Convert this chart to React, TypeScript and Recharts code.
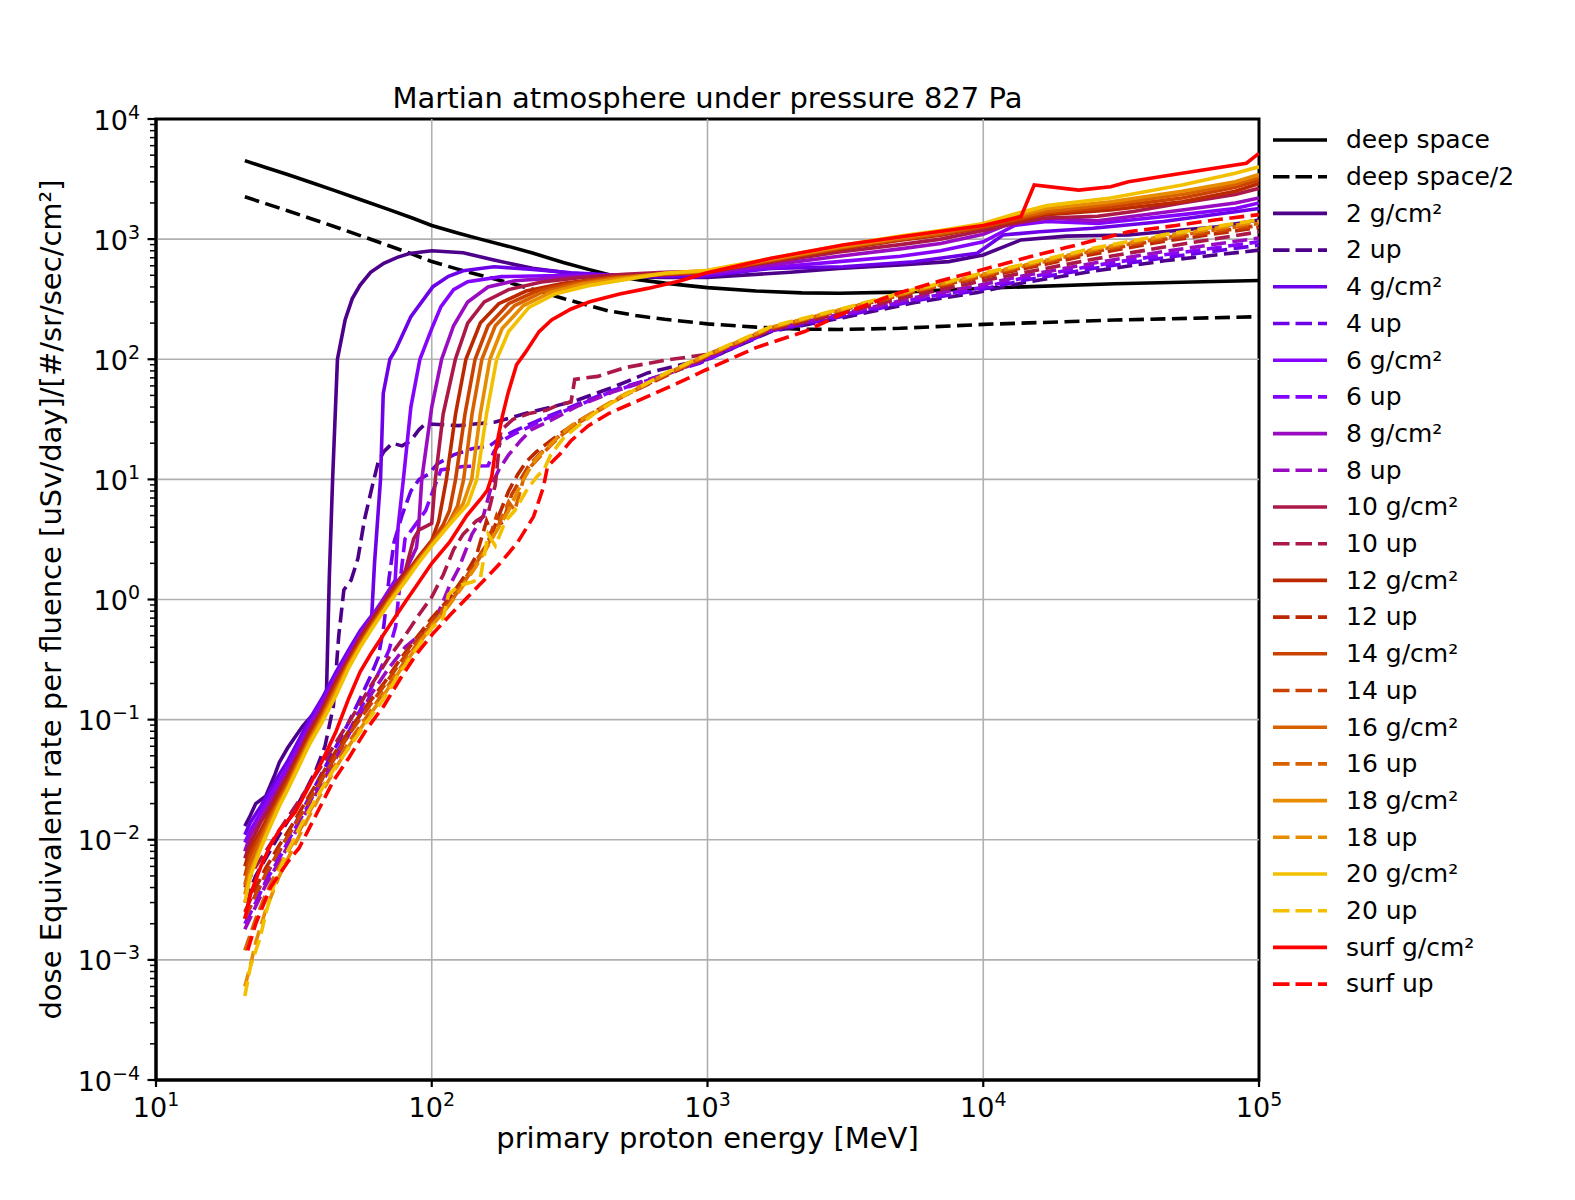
import React from "react";
import { LineChart, Line, XAxis, YAxis, ReferenceLine, ReferenceArea } from "recharts";

type Pt = [number, number];

// energies in MeV, dose values
const deepSpace: Pt[] = [[21,4500],[25,3950],[30,3450],[37,2930],[44,2560],[55,2140],[70,1760],[85,1500],[100,1300],[125,1120],[150,1000],[190,870],[232,765],[300,640],[370,560],[440,505],[500,480],[550,462],[700,430],[850,410],[1000,395],[1500,370],[2200,357],[3000,354],[5000,362],[10000,390],[30000,425],[100000,452]];
const deepSpaceHalf: Pt[] = [[21,2250],[25,1975],[30,1725],[37,1465],[44,1280],[55,1070],[70,880],[85,750],[100,650],[125,560],[150,500],[190,435],[232,382],[300,320],[370,280],[440,252],[500,240],[550,231],[700,215],[850,205],[1000,197],[1500,185],[2200,178],[3000,177],[5000,181],[10000,195],[30000,212],[100000,226]];

const g2: Pt[] = [[21,0.013],[22,0.016],[23,0.02],[25,0.023],[27,0.035],[28,0.044],[30,0.058],[32,0.072],[34,0.088],[37,0.11],[40.5,0.14],[41.5,0.16],[42.5,1.5],[43.7,10],[45.5,100],[48.5,212],[51.5,320],[55,415],[60,530],[67,630],[75,705],[83,760],[100,800],[130,770],[168,670],[232,571],[320,519],[440,490],[700,480],[1000,480],[2000,530],[3000,571],[5000,610],[7500,650],[10000,738],[13700,985],[20000,1060],[33600,1082],[45000,1153],[71000,1267],[100000,1443]];
const up2: Pt[] = [[21,0.003],[23,0.005],[25,0.007],[28,0.011],[31,0.016],[35,0.026],[38,0.038],[41,0.06],[44,0.13],[46,0.5],[48,1.2],[51,1.45],[54,2.2],[57,4.6],[61,9],[64,14],[67,17],[72,20],[78,19],[84,21],[90,26],[95,29],[110,28.5],[125,28],[170,30],[220,35.5],[272,40],[340,46],[450,58],[607,77],[800,90],[1000,100],[1700,170],[3100,222],[5600,295],[9550,360],[13700,430],[25000,540],[45400,660],[100000,810]];

const g4: Pt[] = [[21,0.011],[22,0.014],[24,0.019],[26,0.026],[28,0.035],[30,0.045],[33,0.068],[36,0.1],[40,0.15],[45,0.25],[50,0.38],[55,0.55],[60.6,0.74],[62,2],[65.2,10],[66.7,52],[70.5,100],[74,120],[84,226],[101,402],[115,490],[130,545],[168,589],[232,560],[320,525],[440,505],[700,490],[940,487],[1700,571],[3100,589],[5600,649],[9500,762],[11800,1082],[16000,1153],[25000,1230],[45000,1400],[82000,1690],[100000,1800]];
const up4: Pt[] = [[21,0.0022],[23,0.0035],[25,0.005],[28,0.008],[31,0.012],[35,0.02],[40,0.036],[45,0.06],[50,0.095],[55,0.15],[60,0.23],[64,0.33],[67,0.6],[70,1.5],[73,3],[78,5],[84,8],[90,10],[97,11],[105,13.5],[120,16],[140,18],[162,19],[172,21],[197,25],[228,29],[260,33],[345,43],[452,55],[600,67],[940,93],[1700,172],[3100,228],[5600,305],[9550,375],[13700,450],[25000,570],[45400,700],[100000,890]];

const g6: Pt[] = [[21,0.0095],[22,0.012],[24,0.017],[26,0.023],[28,0.031],[30,0.04],[33,0.062],[36,0.09],[40,0.14],[45,0.23],[50,0.36],[55,0.52],[60,0.7],[65,0.92],[70,1.2],[73.7,1.45],[75.5,4],[78.9,10],[84,40],[90.6,100],[100,180],[108,274],[120,380],[135,442],[179,487],[260,495],[400,500],[700,510],[1000,515],[2000,600],[3000,650],[5000,720],[7000,800],[10000,950],[13000,1300],[17000,1400],[26000,1350],[35000,1450],[52600,1600],[82000,1800],[100000,2000]];
const up6: Pt[] = [[21,0.002],[23,0.003],[25,0.0045],[28,0.007],[31,0.011],[35,0.018],[40,0.032],[45,0.052],[50,0.08],[55,0.12],[60,0.18],[65,0.26],[70,0.38],[74,0.6],[77,1.5],[80,3.2],[86,4],[95,5.5],[102,8.5],[108,12],[130,12.8],[160,13],[168,17],[180,21],[200,24],[230,28],[260,32],[345,42],[452,54],[600,66],[940,95],[1700,175],[3100,235],[5600,315],[9550,390],[13700,470],[25000,600],[45400,740],[100000,950]];

const g8: Pt[] = [[21,0.008],[22,0.011],[24,0.015],[26,0.021],[28,0.028],[30,0.037],[33,0.057],[36,0.085],[40,0.13],[45,0.22],[50,0.34],[55,0.5],[60,0.68],[70,1.15],[80,1.7],[88,2.7],[89.5,3.8],[92,10],[100,40],[108.6,100],[120,190],[135,300],[160,400],[200,450],[300,480],[440,500],[700,505],[1000,520],[2000,640],[3000,720],[5000,830],[7000,920],[10000,1100],[13000,1400],[17000,1500],[26000,1420],[35000,1550],[52600,1750],[82000,2000],[100000,2200]];
const up8: Pt[] = [[21,0.0018],[23,0.0028],[25,0.0042],[28,0.0066],[31,0.01],[35,0.017],[40,0.03],[45,0.048],[50,0.075],[55,0.11],[60,0.16],[70,0.27],[80,0.4],[90,0.5],[100,0.6],[105,0.75],[116,1.3],[125,1.8],[140,3.5],[154,5],[165,9],[175,12],[190,16],[210,21],[230,26],[270,31],[340,41],[450,53],[600,66],[1000,102],[1700,178],[3100,240],[5600,325],[9550,410],[13700,490],[25000,630],[45400,790],[100000,1020]];

const g10: Pt[] = [[21,0.007],[22,0.0095],[24,0.014],[26,0.019],[28,0.026],[30,0.034],[33,0.052],[36,0.08],[40,0.12],[45,0.21],[50,0.32],[55,0.48],[60,0.65],[70,1.1],[80,1.7],[86,3.2],[90,3.8],[100,4.3],[103,10],[110,35],[121.8,100],[135,200],[155,300],[190,380],[250,440],[350,480],[500,510],[700,530],[1000,540],[2000,680],[3000,780],[5000,900],[7000,1000],[10000,1180],[13000,1350],[17000,1500],[26000,1550],[35000,1700],[52600,2000],[82000,2350],[100000,2650]];
const up10: Pt[] = [[21,0.004],[23,0.006],[25,0.008],[28,0.012],[31,0.017],[35,0.026],[40,0.042],[45,0.065],[50,0.095],[55,0.135],[60,0.19],[70,0.33],[80,0.5],[90,0.75],[100,1.05],[110,1.6],[120,2.6],[130,3.5],[145,4.5],[160,5.2],[170,9],[178,25.6],[197,31.6],[228,35.6],[260,37.6],[290,42],[320,44],[330,68],[345,69],[400,72],[500,85],[700,98],[1000,110],[1700,175],[3100,245],[5600,340],[9550,440],[13700,520],[25000,680],[45400,860],[100000,1150]];

const g12: Pt[] = [[21,0.006],[22,0.0085],[24,0.012],[26,0.017],[28,0.024],[30,0.032],[33,0.05],[36,0.075],[40,0.115],[45,0.2],[50,0.31],[55,0.46],[60,0.63],[70,1.05],[80,1.6],[90,2.3],[100,3.1],[106,4.5],[113,10],[122,35],[133,100],[150,200],[175,290],[220,370],[300,430],[450,480],[700,505],[1000,530],[2000,700],[3000,820],[5000,980],[7000,1080],[10000,1250],[13000,1400],[17000,1600],[29000,1750],[52600,2050],[82000,2500],[100000,2900]];
const up12: Pt[] = [[21,0.0025],[23,0.004],[25,0.0058],[28,0.009],[31,0.013],[35,0.021],[40,0.035],[45,0.055],[50,0.08],[58,0.13],[67,0.2],[77,0.32],[88,0.48],[100,0.7],[115,1.0],[130,1.5],[145,2.3],[158,4.5],[165,3.5],[175,5],[190,8],[205,11],[220,14],[240,17],[270,21],[300,25],[345,31],[400,38],[500,50],[700,72],[1000,106],[1700,180],[3100,255],[5600,360],[9550,470],[13700,560],[25000,750],[45400,960],[100000,1250]];

const g14: Pt[] = [[21,0.005],[22,0.0075],[24,0.011],[26,0.016],[28,0.022],[30,0.03],[33,0.047],[36,0.07],[40,0.11],[45,0.19],[50,0.3],[55,0.44],[60,0.6],[70,1.0],[80,1.55],[90,2.2],[100,3.0],[110,4.2],[116,5.5],[122,10],[132,35],[143.6,100],[160,190],[190,290],[240,370],[320,430],[450,480],[700,510],[1000,535],[2000,710],[3000,840],[5000,1000],[7000,1100],[10000,1270],[13000,1450],[17000,1650],[29000,1850],[52600,2200],[82000,2700],[100000,3100]];
const up14: Pt[] = [[21,0.0022],[23,0.0035],[25,0.0052],[28,0.0082],[31,0.012],[35,0.019],[40,0.032],[45,0.05],[50,0.075],[58,0.12],[67,0.19],[77,0.3],[88,0.45],[100,0.66],[115,0.95],[130,1.4],[145,2.1],[160,3.0],[172,5],[180,4.2],[195,7.5],[210,10],[225,13],[245,16],[270,20],[300,24.5],[345,30.5],[400,38],[500,50],[700,73],[1000,107],[1700,182],[3100,258],[5600,365],[9550,480],[13700,575],[25000,780],[45400,1000],[100000,1300]];

const g16: Pt[] = [[21,0.0042],[22,0.0065],[24,0.01],[26,0.015],[28,0.021],[30,0.028],[33,0.045],[36,0.068],[40,0.105],[45,0.18],[50,0.29],[55,0.42],[60,0.58],[70,0.98],[80,1.5],[90,2.15],[100,2.9],[115,4.3],[124,6],[130.5,10],[140,35],[152,100],[170,190],[200,280],[250,360],[330,420],[450,470],[700,515],[1000,540],[2000,720],[3000,850],[5000,1010],[7000,1120],[10000,1290],[13000,1500],[17000,1700],[29000,1950],[52600,2350],[82000,2850],[100000,3300]];
const up16: Pt[] = [[21,0.0012],[23,0.0022],[25,0.0035],[28,0.006],[31,0.009],[35,0.015],[40,0.027],[45,0.043],[50,0.065],[58,0.105],[67,0.17],[77,0.27],[88,0.42],[100,0.62],[115,0.9],[130,1.35],[145,2.0],[160,2.9],[175,4.2],[190,6.5],[200,5.5],[215,10],[230,13],[250,16],[275,20],[300,24],[345,30],[400,37],[500,50],[700,74],[1000,108],[1700,183],[3100,260],[5600,370],[9550,490],[13700,590],[25000,800],[45400,1030],[100000,1350]];

const g18: Pt[] = [[21,0.0035],[22,0.0055],[24,0.009],[26,0.014],[28,0.02],[30,0.027],[33,0.043],[36,0.065],[40,0.1],[45,0.17],[50,0.28],[55,0.41],[60,0.56],[70,0.95],[80,1.45],[90,2.1],[100,2.85],[115,4.2],[130,6.3],[139.6,10],[150,35],[162.5,100],[180,180],[215,280],[270,360],[350,420],[480,470],[700,520],[1000,545],[2000,730],[3000,860],[5000,1030],[7000,1150],[10000,1320],[13000,1550],[17000,1800],[29000,2050],[52600,2500],[82000,3000],[100000,3450]];
const up18: Pt[] = [[21,0.0006],[22,0.0009],[23,0.0014],[25,0.0026],[28,0.005],[31,0.008],[35,0.014],[40,0.025],[45,0.04],[50,0.06],[58,0.1],[67,0.16],[77,0.26],[88,0.4],[100,0.6],[115,0.88],[130,1.3],[145,1.9],[160,2.8],[175,4],[190,5.5],[205,8],[220,11],[240,15],[260,18],[290,23],[320,28],[345,31],[400,38],[500,51],[700,75],[1000,109],[1700,185],[3100,262],[5600,375],[9550,500],[13700,600],[25000,820],[45400,1060],[100000,1400]];

const g20: Pt[] = [[21,0.003],[22,0.005],[24,0.0085],[26,0.013],[28,0.019],[30,0.026],[33,0.041],[36,0.062],[40,0.095],[45,0.16],[50,0.27],[55,0.4],[60,0.55],[70,0.93],[80,1.4],[90,2.05],[100,2.8],[115,4.1],[135,6.2],[145.7,10],[158,35],[172,100],[190,170],[225,270],[280,350],[370,410],[500,460],[700,520],[1000,550],[2000,740],[3000,880],[5000,1060],[7000,1180],[10000,1350],[13000,1620],[17000,1900],[29000,2200],[52600,2820],[82000,3530],[100000,4000]];
const up20: Pt[] = [[21,0.0005],[22,0.00088],[23.8,0.0015],[25.2,0.0026],[27.4,0.005],[30,0.008],[34,0.014],[38,0.022],[44,0.038],[50,0.058],[58,0.095],[67,0.15],[77,0.25],[88,0.39],[100,0.58],[110,0.7],[115,1.1],[125,1.3],[140,1.4],[150,1.5],[160,3.5],[170,2.8],[185,4.5],[200,5.5],[220,8],[240,10.5],[255,12],[270,16],[300,22],[340,28],[400,37],[500,50],[700,76],[1000,110],[1700,187],[3100,265],[5600,380],[9550,510],[13700,610],[25000,840],[45400,1090],[100000,1450]];

const gSurf: Pt[] = [[21,0.0022],[22,0.0035],[24,0.006],[26,0.009],[28,0.012],[32,0.017],[35,0.025],[40,0.045],[45,0.08],[50,0.15],[55,0.25],[60,0.35],[70,0.6],[80,0.95],[88,1.3],[100,2.0],[116,3.0],[134,5.0],[150,6.8],[159,8.1],[165,10.5],[170,17],[180,33],[189,52],[203,90],[218,113],[245,170],[272,212],[320,262],[374,301],[480,350],[607,389],[800,450],[980,520],[1700,692],[3100,893],[5600,1082],[10000,1300],[13700,1540],[15300,2820],[22200,2560],[29000,2730],[33600,3000],[52600,3530],[90000,4280],[100000,5180]];
const upSurf: Pt[] = [[21.5,0.0012],[23,0.002],[26,0.004],[30,0.0065],[33,0.0085],[38,0.016],[44,0.031],[50,0.048],[58,0.083],[67,0.13],[77,0.22],[88,0.35],[101,0.52],[117,0.75],[134,1.03],[155,1.45],[177,2.0],[205,3.0],[234,4.9],[254,8.6],[263,12.8],[290,16],[320,21],[370,28],[440,35.5],[520,42],[607,49],[800,65],[980,81],[1500,125],[2250,170],[3100,240],[5000,360],[7000,450],[10000,560],[15000,720],[20000,850],[33600,1150],[50000,1300],[70000,1450],[100000,1600]];

const xTicks = [10, 100, 1000, 10000, 100000];
const yDecades = [1e-4, 1e-3, 1e-2, 1e-1, 1, 10, 100, 1000, 10000];
const yTicks = yDecades.flatMap((d, i) =>
  i === yDecades.length - 1 ? [d] : [1, 2, 3, 4, 5, 6, 7, 8, 9].map((k) => +(k * d).toPrecision(3))
);
const xGrid = [100, 1000, 10000];
const yGrid = [1e-3, 1e-2, 1e-1, 1, 10, 100, 1000];

const series = [
  { name: "deep space", color: "#000000", dash: false, pts: deepSpace },
  { name: "deep space/2", color: "#000000", dash: true, pts: deepSpaceHalf },
  { name: "2 g/cm²", color: "#4d008a", dash: false, pts: g2 },
  { name: "2 up", color: "#4d008a", dash: true, pts: up2 },
  { name: "4 g/cm²", color: "#6d02e8", dash: false, pts: g4 },
  { name: "4 up", color: "#6d02e8", dash: true, pts: up4 },
  { name: "6 g/cm²", color: "#8505fc", dash: false, pts: g6 },
  { name: "6 up", color: "#8505fc", dash: true, pts: up6 },
  { name: "8 g/cm²", color: "#9a0cc1", dash: false, pts: g8 },
  { name: "8 up", color: "#9a0cc1", dash: true, pts: up8 },
  { name: "10 g/cm²", color: "#ac1848", dash: false, pts: g10 },
  { name: "10 up", color: "#ac1848", dash: true, pts: up10 },
  { name: "12 g/cm²", color: "#bc2900", dash: false, pts: g12 },
  { name: "12 up", color: "#bc2900", dash: true, pts: up12 },
  { name: "14 g/cm²", color: "#cb4200", dash: false, pts: g14 },
  { name: "14 up", color: "#cb4200", dash: true, pts: up14 },
  { name: "16 g/cm²", color: "#d96200", dash: false, pts: g16 },
  { name: "16 up", color: "#d96200", dash: true, pts: up16 },
  { name: "18 g/cm²", color: "#e78c00", dash: false, pts: g18 },
  { name: "18 up", color: "#e78c00", dash: true, pts: up18 },
  { name: "20 g/cm²", color: "#f3c000", dash: false, pts: g20 },
  { name: "20 up", color: "#f3c000", dash: true, pts: up20 },
  { name: "surf g/cm²", color: "#ff0000", dash: false, pts: gSurf },
  { name: "surf up", color: "#ff0000", dash: true, pts: upSurf },
];

const FONT = "'DejaVu Sans', sans-serif";
const DASH = "15 6.5";
const LW = 3.6;

const expLabel = (n: number) => (n < 0 ? `\u2212${-n}` : `${n}`);

function YTick(props: any) {
  const { x, y, payload } = props;
  const e = Math.log10(payload.value);
  const n = Math.round(e);
  if (Math.abs(e - n) > 1e-6) {
    return <line x1={x - 6} x2={x} y1={y} y2={y} stroke="#000" strokeWidth={1.5} />;
  }
  return (
    <g>
      <line x1={x - 8.5} x2={x} y1={y} y2={y} stroke="#000" strokeWidth={2.2} />
      <text x={x - 16} y={y + 10.5} textAnchor="end" fontFamily={FONT} fontSize={27} fill="#000">
        10<tspan dy={-11} fontSize={19}>{expLabel(n)}</tspan>
      </text>
    </g>
  );
}

function XTick(props: any) {
  const { x, y, payload } = props;
  const n = Math.round(Math.log10(payload.value));
  return (
    <g>
      <line x1={x} x2={x} y1={y} y2={y + 7} stroke="#000" strokeWidth={2.2} />
      <text x={x} y={y + 36.5} textAnchor="middle" fontFamily={FONT} fontSize={27} fill="#000">
        10<tspan dy={-11} fontSize={19}>{expLabel(n)}</tspan>
      </text>
    </g>
  );
}

export default function App() {
  return (
    <div style={{ position: "absolute", left: 0, top: 0, width: 1575, height: 1200, background: "#fff" }}>
      <LineChart width={1575} height={1200} margin={{ top: 119, right: 316, bottom: 70, left: 86 }}>
        <XAxis
          dataKey="x"
          type="number"
          scale="log"
          domain={[10, 100000]}
          allowDataOverflow
          ticks={xTicks}
          interval={0}
          height={50}
          tickSize={0}
          tickMargin={0}
          tickLine={false}
          tick={<XTick />}
          axisLine={{ stroke: "#000", strokeWidth: 3 }}
        />
        <YAxis
          type="number"
          scale="log"
          domain={[1e-4, 1e4]}
          allowDataOverflow
          ticks={yTicks}
          interval={0}
          width={70}
          tickSize={0}
          tickMargin={0}
          tickLine={false}
          tick={<YTick />}
          axisLine={{ stroke: "#000", strokeWidth: 3 }}
        />
        {xGrid.map((v) => (
          <ReferenceLine key={"gx" + v} x={v} stroke="#b0b0b0" strokeWidth={1.6} />
        ))}
        {yGrid.map((v) => (
          <ReferenceLine key={"gy" + v} y={v} stroke="#b0b0b0" strokeWidth={1.6} />
        ))}
        {series.map((s) => (
          <Line
            key={s.name}
            name={s.name}
            data={s.pts.map(([x, y]) => ({ x, y }))}
            dataKey="y"
            type="linear"
            stroke={s.color}
            strokeWidth={LW}
            strokeDasharray={s.dash ? DASH : undefined}
            dot={false}
            activeDot={false}
            isAnimationActive={false}
          />
        ))}
        <ReferenceArea x1={10} x2={100000} y1={1e-4} y2={1e4} fill="none" stroke="#000" strokeWidth={3} ifOverflow="visible" />
      </LineChart>
      <svg width={1575} height={1200} style={{ position: "absolute", left: 0, top: 0, pointerEvents: "none" }}>
        <text x={707.5} y={107.5} textAnchor="middle" fontFamily={FONT} fontSize={29} fill="#000">
          Martian atmosphere under pressure 827 Pa
        </text>
        <text x={707.5} y={1148} textAnchor="middle" fontFamily={FONT} fontSize={29} fill="#000">
          primary proton energy [MeV]
        </text>
        <text transform="translate(61,599.5) rotate(-90)" textAnchor="middle" fontFamily={FONT} fontSize={29} fill="#000">
          dose Equivalent rate per fluence [uSv/day]/[#/sr/sec/cm²]
        </text>
        {series.map((s, i) => {
          const y = 140 + i * 36.7;
          return (
            <g key={"lg" + s.name}>
              <line x1={1273} x2={1327} y1={y} y2={y} stroke={s.color} strokeWidth={LW} strokeDasharray={s.dash ? "16.5 6" : undefined} />
              <text x={1346} y={y + 8.3} fontFamily={FONT} fontSize={25} fill="#000">
                {s.name}
              </text>
            </g>
          );
        })}
      </svg>
    </div>
  );
}
